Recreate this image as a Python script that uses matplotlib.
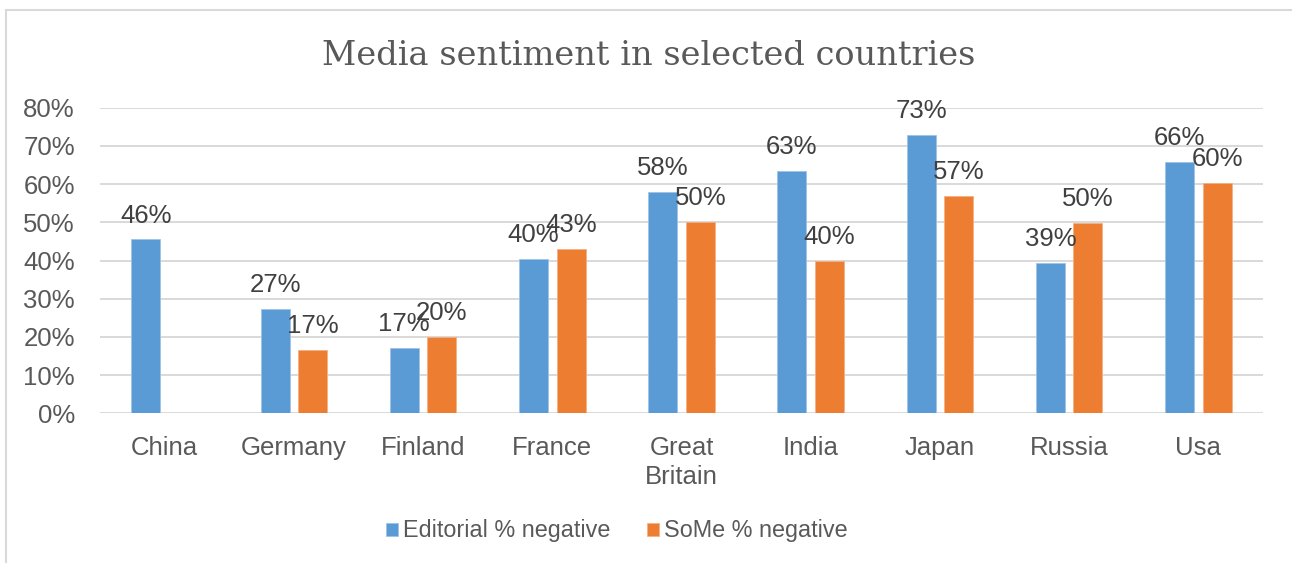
import numpy as np
import matplotlib.pyplot as plt
from matplotlib.patches import Rectangle

countries = ["China", "Germany", "Finland", "France", "Great\nBritain",
             "India", "Japan", "Russia", "Usa"]
editorial = [45.5, 27.3, 17.1, 40.3, 58.0, 63.4, 72.8, 39.3, 65.7]
some = [np.nan, 16.6, 20.0, 42.9, 50.0, 40.0, 57.0, 49.9, 60.3]
yticks = [0, 10, 20, 30, 40, 50, 60, 70, 80]

BLUE = "#5B9BD5"
ORANGE = "#ED7D31"
GRID = "#D9D9D9"
TXT = "#595959"
LBL = "#404040"

fig = plt.figure(figsize=(12.92, 5.63), dpi=100)
ax = fig.add_axes([100 / 1292, 1 - 413.3 / 563, 1163 / 1292, 305.6 / 563])

# outer chart frame (runs off the right/bottom edge in the reference)
fig.patches.append(Rectangle((6 / 1292, -0.1), 1.1, 1.1 - 10 / 563,
                             transform=fig.transFigure, fill=False,
                             edgecolor=GRID, linewidth=1.5))

x = np.arange(len(countries))
w = 0.224
off = (w + 0.067) / 2
b1 = ax.bar(x - off, editorial, w, color=BLUE, edgecolor="#9DC3E6", linewidth=0.6, zorder=3)
b2 = ax.bar(x + off, some, w, color=ORANGE, edgecolor="#F4B183", linewidth=0.6, zorder=3)

# value labels sit above each bar, overlapping where Excel overlaps them
for xs, vals in [(x - off, editorial), (x + off, some)]:
    for xi, v in zip(xs, vals):
        if np.isnan(v):
            continue
        ax.annotate(f"{v:.0f}%", (xi, v), xytext=(0, 12.2), textcoords="offset points",
                    ha="center", va="baseline", fontsize=18.5, color=LBL,
                    family="Liberation Sans", zorder=4)

ax.set_xlim(-0.5, len(countries) - 0.5)
ax.set_ylim(0, 80)
ax.set_yticks(yticks)
ax.set_yticklabels([f"{t}%" for t in yticks])
ax.set_xticks(x)
ax.set_xticklabels(countries, linespacing=1.3)
ax.grid(axis="y", color=GRID, linewidth=1.4, zorder=0)
ax.set_axisbelow(True)
for s in ax.spines.values():
    s.set_visible(False)
ax.tick_params(axis="both", length=0, labelsize=18.5, labelcolor=TXT)
ax.tick_params(axis="y", pad=18)
ax.tick_params(axis="x", pad=16)
for t in ax.get_xticklabels() + ax.get_yticklabels():
    t.set_family("Liberation Sans")

fig.text(649 / 1292, 1 - 56 / 563, "Media sentiment in selected countries",
         ha="center", va="center", fontsize=24.2, color=TXT, family="DejaVu Serif")

leg = fig.legend([b1, b2], ["Editorial % negative", "SoMe % negative"],
                 loc="center", bbox_to_anchor=(617 / 1292, 1 - 531 / 563), ncol=2,
                 frameon=False, handlelength=0.5, handleheight=0.5,
                 handletextpad=0.25, columnspacing=1.55,
                 prop={"family": "Liberation Sans", "size": 16.8})
for t in leg.get_texts():
    t.set_color(TXT)

fig.savefig("out.png", dpi=100)
